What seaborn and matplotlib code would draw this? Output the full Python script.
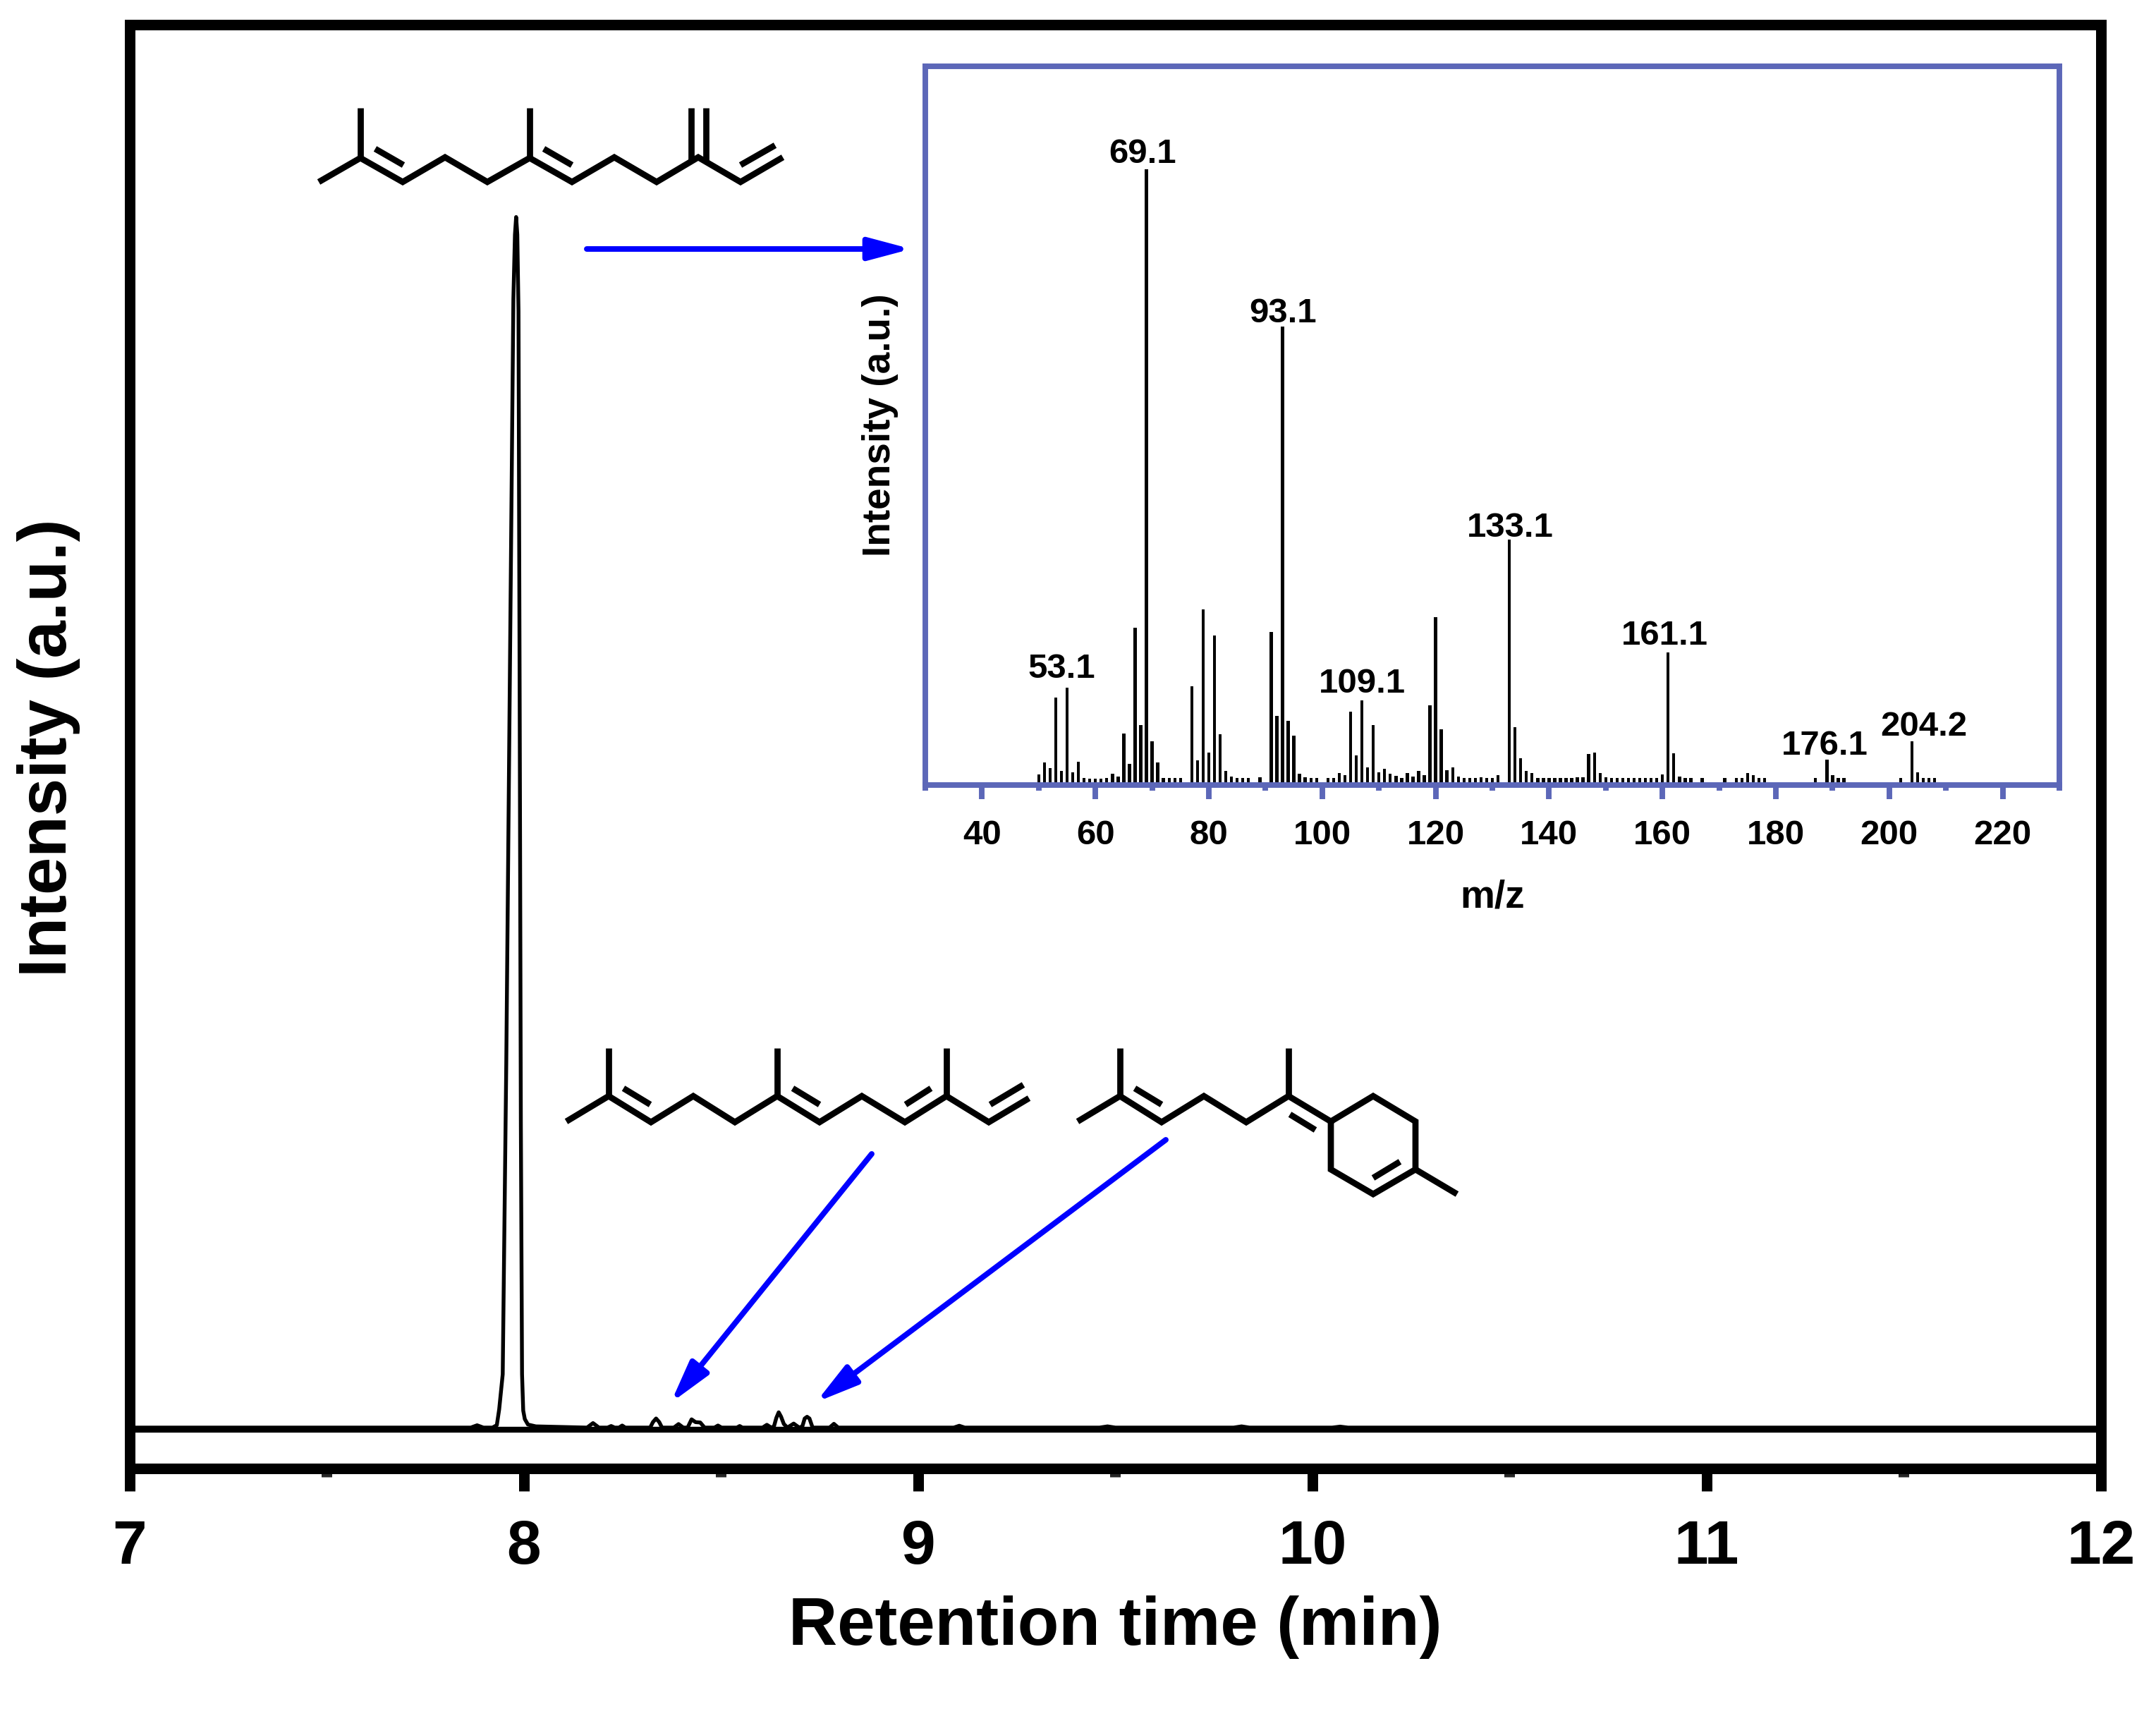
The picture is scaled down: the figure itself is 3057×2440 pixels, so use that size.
import matplotlib
matplotlib.use('Agg')
import matplotlib.pyplot as plt
import seaborn as sns

# chromatogram trace
rt = [7.0, 7.3, 7.6, 7.865, 7.875, 7.881, 7.887, 7.897, 7.92, 7.931, 7.937, 7.946, 7.955, 7.965, 7.973, 7.977, 7.980, 7.983,
      7.986, 7.989, 7.992, 7.995, 7.998, 8.002, 8.01, 8.03, 8.16, 8.168, 8.175, 8.182, 8.19, 8.212, 8.221, 8.23,
      8.241, 8.249, 8.257, 8.32, 8.327, 8.335, 8.343, 8.35, 8.38, 8.392, 8.404, 8.415, 8.425, 8.435,
      8.447, 8.458, 8.483, 8.492, 8.501, 8.54, 8.547, 8.554, 8.605, 8.616, 8.627, 8.634, 8.64, 8.646,
      8.652, 8.659, 8.668, 8.684, 8.698, 8.706, 8.712, 8.718, 8.724, 8.732, 8.775, 8.786, 8.797, 9.09,
      9.104, 9.118, 9.46, 9.48, 9.5, 9.8, 9.82, 9.84, 10.05, 10.07, 10.09, 12.0]
intensity = [0, 0, 0, 0, 0.12, 0.19, 0.12, 0, 0, 0.2, 1.5, 4.4, 30, 65, 93, 98.3, 99.75, 98.3,
             92, 60, 25, 4.4, 1.4, 0.7, 0.25, 0.1, 0, 0.2, 0.37, 0.2, 0, 0, 0.13, 0,
             0, 0.17, 0, 0, 0.45, 0.75, 0.45, 0, 0, 0.29, 0, 0, 0.68, 0.45,
             0.42, 0, 0, 0.17, 0, 0, 0.13, 0, 0, 0.23, 0, 0.1, 0.8, 1.26,
             0.9, 0.3, 0, 0.33, 0, 0.1, 0.75, 0.89, 0.75, 0, 0, 0.31, 0, 0,
             0.15, 0, 0, 0.1, 0, 0, 0.1, 0, 0, 0.08, 0, 0]

# mass spectrum
mz = [50, 51, 52, 53, 54, 55, 56, 57, 58, 59, 60, 61, 62, 63, 64, 65, 66, 67, 68, 69, 70, 71, 72, 73, 74, 75,
      77, 78, 79, 80, 81, 82, 83, 84, 85, 86, 87, 89, 91, 92, 93, 94, 95, 96, 97, 98, 99,
      101, 102, 103, 104, 105, 106, 107, 108, 109, 110, 111, 112, 113, 114, 115, 116, 117, 118, 119,
      120, 121, 122, 123, 124, 125, 126, 127, 128, 129, 130, 131, 133, 134, 135, 136, 137, 138, 139,
      140, 141, 142, 143, 144, 145, 146, 147, 148, 149, 150, 151, 152, 153, 154, 155, 156, 157, 158, 159,
      160, 161, 162, 163, 164, 165, 167, 171, 173, 174, 175, 176, 177, 178, 187, 189, 190, 191, 192,
      202, 204, 205, 206, 207, 208]
abundance = [1.7, 3.7, 2.8, 14.2, 2.3, 15.8, 2.1, 3.8, 1.1, 1.0, 1.0, 1.0, 1.2, 1.8, 1.4, 8.4, 3.4, 25.5, 9.7, 100,
             7.1, 3.7, 1.1, 1.1, 1.1, 1.1,
             16, 4, 28.5, 5.3, 24.3, 8.3, 2.3, 1.4, 1.1, 1.1, 1.1, 1.3, 24.9, 11.2, 74.4, 10.4, 8, 1.8, 1.3, 1.1, 1.1,
             1.1, 1.2, 2, 1.6, 11.9, 4.8, 13.8, 2.9, 9.7, 2.1, 2.6, 1.8, 1.5, 1.2, 1.9, 1.4, 2.3, 1.6, 12.9,
             27.3, 9, 2.4, 2.9, 1.4, 1.1, 1.1, 1.1, 1.3, 1.2, 1.1, 1.6, 39.8, 9.4, 4.4, 2.3, 1.9, 1.2, 1.1,
             1.1, 1.1, 1.1, 1.1, 1.1, 1.3, 1.3, 5, 5.3, 2, 1.3, 1.1, 1.1, 1.1, 1.1, 1.1, 1.1, 1.1, 1.1, 1.1,
             1.7, 21.5, 5.1, 1.4, 1.1, 1.1, 1.1, 1.1, 1.1, 1.1, 2, 1.6, 1.2, 1.1, 1.1, 4.1, 1.6, 1.1, 1.1,
             1.1, 7.1, 2.1, 1.2, 1.1, 1.1]

peak_labels = ['69.1', '93.1', '53.1', '109.1', '133.1', '161.1', '176.1', '204.2']
label_mz = [68.3, 93.06, 54, 107.1, 133.1, 160.4, 188.6, 206.1]
label_y = [102.4, 76.6, 18.8, 16.4, 41.8, 24.2, 6.3, 9.4]

main_ticks = [7, 8, 9, 10, 11, 12]
main_minor = [7.5, 8.5, 9.5, 10.5, 11.5]
inset_ticks = [40, 60, 80, 100, 120, 140, 160, 180, 200, 220]
inset_minor = [30, 50, 70, 90, 110, 130, 150, 170, 190, 210, 230]

sns.set_theme(style='ticks')
plt.rcParams['font.family'] = ['Liberation Sans', 'DejaVu Sans']

W, H = 3057, 2440
fig = plt.figure(figsize=(W / 300, H / 300), dpi=300)


def box(left, top, right, bottom):
    return [left / W, 1 - bottom / H, (right - left) / W, (bottom - top) / H]


ax = fig.add_axes(box(184, 35, 2979, 2082))
sns.lineplot(x=rt, y=intensity, color='black', linewidth=1.3, estimator=None, sort=False, ax=ax)
ax.axhline(-0.2, color='black', linewidth=2)
ax.set_xlim(7, 12)
ax.set_ylim(-3.37, 115.6)
ax.set_xticks(main_ticks)
ax.set_xticks(main_minor, minor=True)
ax.set_yticks([])
ax.tick_params(axis='x', which='major', width=3.6, length=7.7, pad=9.5, labelsize=21, color='black', labelcolor='black')
ax.tick_params(axis='x', which='minor', width=3.6, length=2.9)
for lab in ax.get_xticklabels():
    lab.set_fontweight('bold')
for s in ax.spines.values():
    s.set_visible(True)
    s.set_linewidth(3.6)
    s.set_color('black')
ax.set_xlabel('Retention time (min)', fontsize=23, fontweight='bold', va='center', color='black')
ax.set_ylabel('Intensity (a.u.)', fontsize=23, fontweight='bold', va='center', color='black')
ax.xaxis.set_label_coords(0.5, -0.11)
ax.yaxis.set_label_coords(-0.041, 0.499)

# inset spectrum
frame = '#5C67B8'
ins = fig.add_axes(box(1312, 94, 2920, 1113))
sns.barplot(x=mz, y=abundance, native_scale=True, width=0.55, color='black', saturation=1,
            linewidth=0, edgecolor='none', ax=ins)
ins.set_xlim(30, 230)
ins.set_ylim(0, 116.7)
ins.set_xticks(inset_ticks)
ins.set_xticklabels([str(t) for t in inset_ticks], fontweight='bold', fontsize=11.8, color='black')
ins.set_xticks(inset_minor, minor=True)
ins.set_yticks([])
ins.tick_params(axis='x', which='major', width=1.9, length=4.8, pad=7, color=frame)
ins.tick_params(axis='x', which='minor', width=1.9, length=1.9, color=frame)
for s in ins.spines.values():
    s.set_visible(True)
    s.set_linewidth(1.9)
    s.set_color(frame)
ins.set_xlabel('m/z', fontsize=13.2, fontweight='bold', va='center', color='black')
ins.set_ylabel('Intensity (a.u.)', fontsize=13.2, fontweight='bold', va='center', color='black')
ins.xaxis.set_label_coords(0.5, -0.157)
ins.yaxis.set_label_coords(-0.04, 0.501)
for txt, x, y in zip(peak_labels, label_mz, label_y):
    ins.text(x, y, txt, ha='center', va='center', fontsize=11.8, fontweight='bold', color='black')

# overlay in image pixels for the structures and arrows
over = fig.add_axes([0, 0, 1, 1], zorder=5)
over.set_xlim(0, W)
over.set_ylim(H, 0)
over.axis('off')
over.patch.set_alpha(0)


def bonds(points):
    over.plot([p[0] for p in points], [p[1] for p in points], color='black', linewidth=2.1,
              solid_capstyle='butt', solid_joinstyle='miter')


# beta-farnesene
bonds([(452, 258), (511, 224), (571, 258), (631, 223), (691, 258), (751, 224), (811, 258), (871, 223),
       (931, 258), (990, 223), (1050, 258), (1110, 223)])
bonds([(511, 224), (511, 153)])
bonds([(751, 224), (751, 153)])
bonds([(980, 229), (980, 153)])
bonds([(1001, 229), (1001, 153)])
bonds([(532, 211), (572, 234)])
bonds([(771, 211), (811, 234)])
bonds([(1050, 234), (1099, 206)])

# alpha-farnesene
bonds([(803, 1590), (863, 1554), (923, 1591), (983, 1554), (1042, 1591), (1102, 1554), (1162, 1591),
       (1222, 1554), (1283, 1591), (1342, 1554), (1402, 1591), (1459, 1557)])
bonds([(863, 1554), (863, 1486)])
bonds([(1102, 1554), (1102, 1486)])
bonds([(1342, 1554), (1342, 1486)])
bonds([(884, 1543), (922, 1566)])
bonds([(1124, 1543), (1162, 1566)])
bonds([(1320, 1543), (1284, 1566)])
bonds([(1451, 1538), (1404, 1566)])

# bisabolene
bonds([(1528, 1590), (1588, 1554), (1647, 1591), (1707, 1554), (1767, 1591), (1827, 1554), (1887, 1590)])
bonds([(1588, 1554), (1588, 1486)])
bonds([(1827, 1554), (1827, 1486)])
bonds([(1887, 1590), (1947, 1554), (2007, 1590), (2007, 1658), (1947, 1693), (1887, 1658), (1887, 1590)])
bonds([(2007, 1658), (2066, 1693)])
bonds([(1609, 1543), (1647, 1566)])
bonds([(1829, 1580), (1865, 1602)])
bonds([(1985, 1647), (1947, 1670)])


def arrow(start, tip):
    over.annotate('', xy=tip, xytext=start,
                  arrowprops=dict(arrowstyle='-|>,head_length=1.2,head_width=0.32', color='#0000FF',
                                  lw=1.9, shrinkA=0, shrinkB=0, mutation_scale=10))


arrow((832, 353), (1292, 353))
arrow((1236, 1636), (951, 1989))
arrow((1653, 1616), (1157, 1988))

fig.savefig('out.png', dpi=300)
